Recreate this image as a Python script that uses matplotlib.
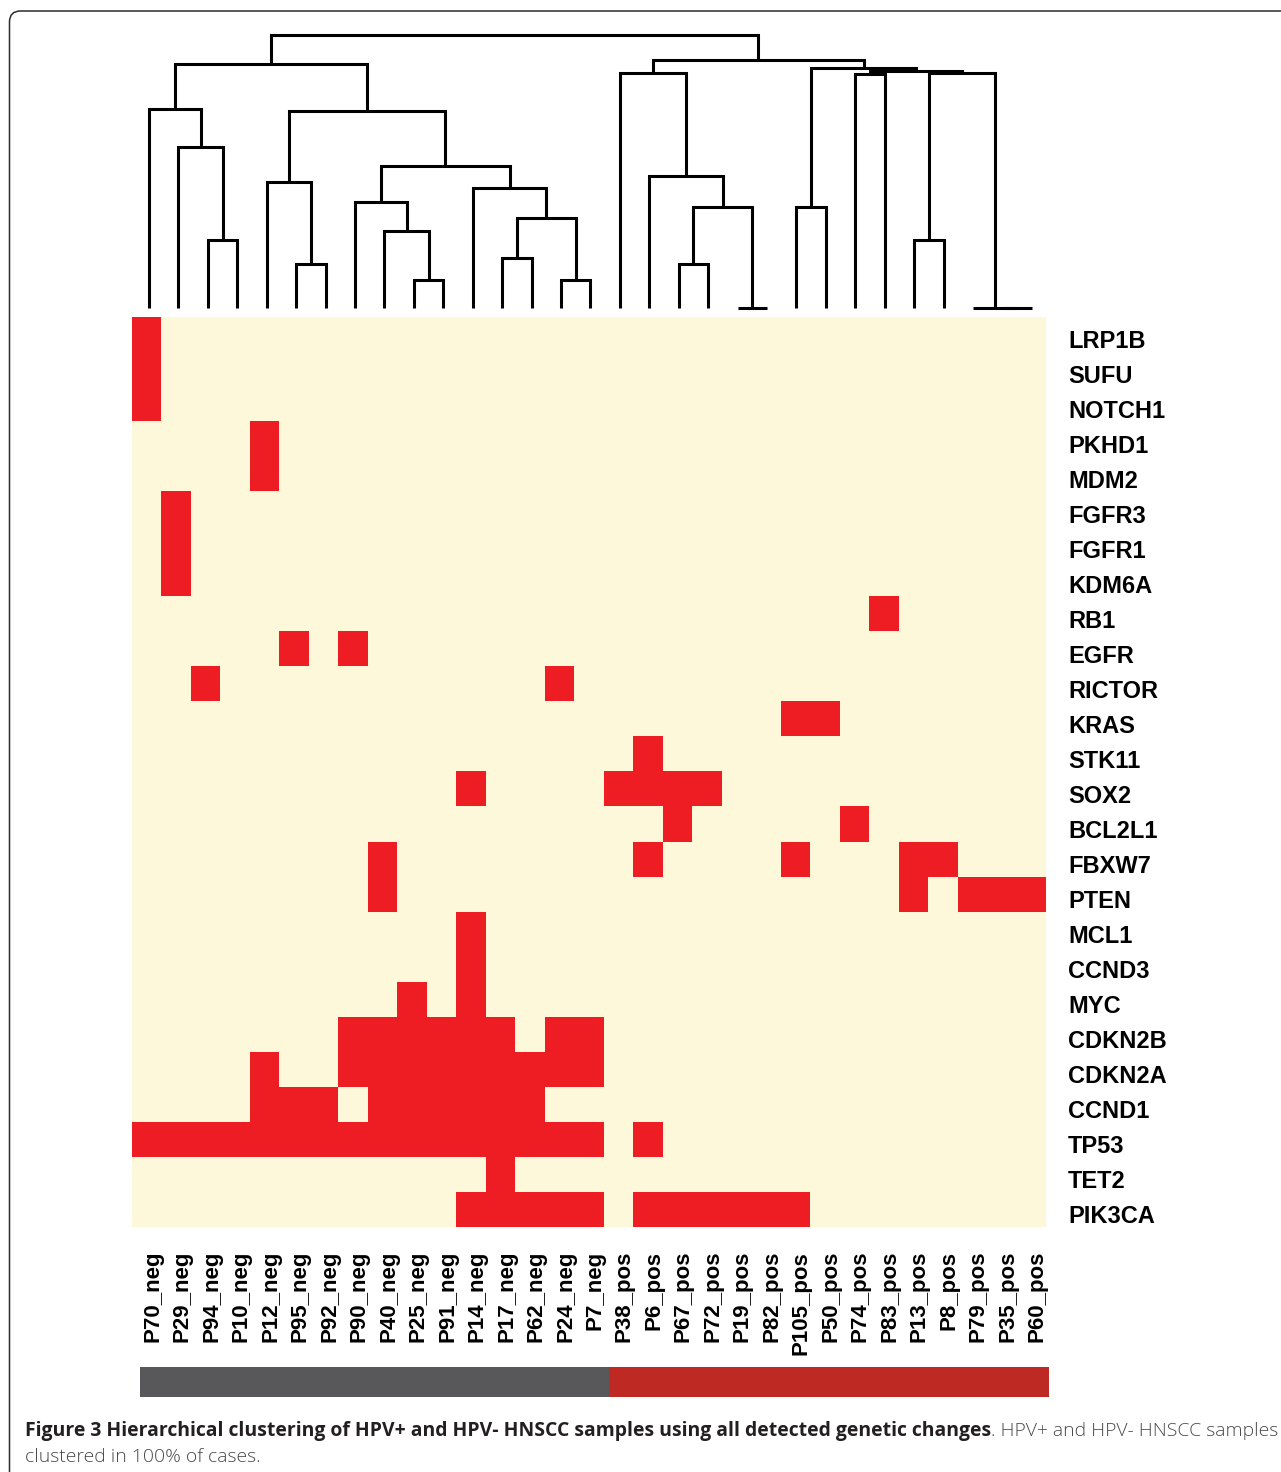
import matplotlib
matplotlib.use("Agg")
import numpy as np
import matplotlib.pyplot as plt
from matplotlib.colors import ListedColormap
from matplotlib import transforms
from matplotlib.patches import FancyBboxPatch

# ---------------------------------------------------------------- data
samples = [
    "P70_neg", "P29_neg", "P94_neg", "P10_neg", "P12_neg", "P95_neg",
    "P92_neg", "P90_neg", "P40_neg", "P25_neg", "P91_neg", "P14_neg",
    "P17_neg", "P62_neg", "P24_neg", "P7_neg",
    "P38_pos", "P6_pos", "P67_pos", "P72_pos", "P19_pos", "P82_pos",
    "P105_pos", "P50_pos", "P74_pos", "P83_pos", "P13_pos", "P8_pos",
    "P79_pos", "P35_pos", "P60_pos",
]

genes = [
    "LRP1B", "SUFU", "NOTCH1", "PKHD1", "MDM2", "FGFR3", "FGFR1", "KDM6A",
    "RB1", "EGFR", "RICTOR", "KRAS", "STK11", "SOX2", "BCL2L1", "FBXW7",
    "PTEN", "MCL1", "CCND3", "MYC", "CDKN2B", "CDKN2A", "CCND1", "TP53",
    "TET2", "PIK3CA",
]

# one string per gene, one character per sample (1 = alteration detected)
#                neg samples (16)     pos samples (15)
alterations = [
    "1000000000000000" "000000000000000",  # LRP1B
    "1000000000000000" "000000000000000",  # SUFU
    "1000000000000000" "000000000000000",  # NOTCH1
    "0000100000000000" "000000000000000",  # PKHD1
    "0000100000000000" "000000000000000",  # MDM2
    "0100000000000000" "000000000000000",  # FGFR3
    "0100000000000000" "000000000000000",  # FGFR1
    "0100000000000000" "000000000000000",  # KDM6A
    "0000000000000000" "000000000100000",  # RB1
    "0000010100000000" "000000000000000",  # EGFR
    "0010000000000010" "000000000000000",  # RICTOR
    "0000000000000000" "000000110000000",  # KRAS
    "0000000000000000" "010000000000000",  # STK11
    "0000000000010000" "111100000000000",  # SOX2
    "0000000000000000" "001000001000000",  # BCL2L1
    "0000000010000000" "010000100011000",  # FBXW7
    "0000000010000000" "000000000010111",  # PTEN
    "0000000000010000" "000000000000000",  # MCL1
    "0000000000010000" "000000000000000",  # CCND3
    "0000000001010000" "000000000000000",  # MYC
    "0000000111111011" "000000000000000",  # CDKN2B
    "0000100111111111" "000000000000000",  # CDKN2A
    "0000111011111100" "000000000000000",  # CCND1
    "1111111111111111" "010000000000000",  # TP53
    "0000000000001000" "000000000000000",  # TET2
    "0000000000011111" "011111100000000",  # PIK3CA
]

# hclust-style merge table: negative = leaf (1-based sample position),
# positive = earlier merge step (1-based)
merge_left = [-21, -30, -29, -10, -15, -6, -19, -13, -3, -27,
              -9, 8, -23, 7, -8, -12, -5, -18, 15, -2,
              17, -1, -17, -25, 10, 24, 13, 22, 23, 28]
merge_right = [-22, -31, 2, -11, -16, -7, -20, -14, -4, -28,
               4, 5, -24, 1, 11, 12, 6, 14, 16, 9,
               19, 20, 18, -26, 3, 25, 26, 21, 27, 29]
merge_height = [0.00, 0.00, 0.00, 0.31, 0.31, 0.48, 0.48, 0.55, 0.75, 0.75,
                0.85, 0.99, 1.11, 1.11, 1.17, 1.32, 1.38, 1.45, 1.56, 1.77,
                2.17, 2.19, 2.58, 2.57, 2.58, 2.60, 2.64, 2.68, 2.73, 3.00]

hpv_status = [s.split("_")[1] for s in samples]

# ---------------------------------------------------------------- styles
W, H = 1281, 1472
DPI = 100
CREAM = "#fdf8da"
RED = "#ee1d23"
BAR_GREY = "#58585a"
BAR_RED = "#be2a23"
LABEL_FONT = dict(family=["Liberation Sans", "DejaVu Sans"], weight="bold",
                  color="black")

fig = plt.figure(figsize=(W / DPI, H / DPI), dpi=DPI)
fig.patch.set_facecolor("white")


def px_axes(x0, y0, x1, y1):
    """Axes placed by pixel box (top-left origin)."""
    return fig.add_axes([x0 / W, 1 - y1 / H, (x1 - x0) / W, (y1 - y0) / H])


# rounded figure frame
frame = FancyBboxPatch((9.5, -40), 1330, H - 11 + 40,
                       boxstyle="round,pad=0,rounding_size=11",
                       transform=transforms.IdentityTransform(),
                       facecolor="none", edgecolor="#2b2b2b", lw=1.1)
fig.add_artist(frame)

# ---------------------------------------------------------------- heatmap
mat = np.array([[int(ch) for ch in row] for row in alterations])
n_rows, n_cols = mat.shape

ax_hm = px_axes(132, 317, 1046, 1227.5)
ax_hm.imshow(mat, cmap=ListedColormap([CREAM, RED]), vmin=0, vmax=1,
             aspect="auto", interpolation="nearest",
             extent=(-0.5, n_cols - 0.5, n_rows - 0.5, -0.5))
ax_hm.set_xlim(-0.5, n_cols - 0.5)
ax_hm.set_ylim(n_rows - 0.5, -0.5)
ax_hm.axis("off")

row_trans = transforms.offset_copy(ax_hm.get_yaxis_transform(), fig=fig,
                                   x=22, y=-13, units="dots")
for r, gene in enumerate(genes):
    ax_hm.text(1.0, r, gene, transform=row_trans, ha="left", va="baseline",
               fontsize=17, **LABEL_FONT)

col_trans = transforms.offset_copy(ax_hm.get_xaxis_transform(), fig=fig,
                                   x=6, y=-23.5, units="dots")
for c, name in enumerate(samples):
    ax_hm.text(c, 0.0, name, transform=col_trans, rotation=90,
               ha="center", va="top", fontsize=16, **LABEL_FONT)

# ---------------------------------------------------------------- dendrogram
ax_dg = px_axes(134.3, 35, 1046.6, 308)
ax_dg.set_xlim(-0.5, n_cols - 0.5)
ax_dg.set_ylim(0, max(merge_height))
ax_dg.axis("off")

node_x, node_h = {}, {}


def node_pos(ref):
    if ref < 0:
        return float(-ref - 1), 0.0
    return node_x[ref], node_h[ref]


for step, (a, b, h) in enumerate(zip(merge_left, merge_right, merge_height),
                                 start=1):
    xa, ha = node_pos(a)
    xb, hb = node_pos(b)
    ax_dg.plot([xa, xa, xb, xb], [ha, h, h, hb], color="black", lw=2.2,
               solid_joinstyle="miter", solid_capstyle="butt", clip_on=False)
    node_x[step] = (xa + xb) / 2
    node_h[step] = h

# ---------------------------------------------------------------- HPV bar
ax_bar = px_axes(140, 1367, 1049, 1397.5)
codes = np.array([[0 if s == "neg" else 1 for s in hpv_status]])
ax_bar.imshow(codes, cmap=ListedColormap([BAR_GREY, BAR_RED]), vmin=0, vmax=1,
              aspect="auto", interpolation="nearest")
ax_bar.axis("off")

# ---------------------------------------------------------------- caption
renderer = fig.canvas.get_renderer()


def fit_text(x_px, y_px, text, width_px, ha="left", **kw):
    t = fig.text(x_px / W, 1 - y_px / H, text, ha=ha, va="baseline",
                 fontsize=12, **kw)
    w = t.get_window_extent(renderer=renderer).width
    t.set_fontsize(12 * width_px / w)
    return t


cap_bold = fit_text(25, 1436,
                    "Figure 3 Hierarchical clustering of HPV+ and HPV- HNSCC "
                    "samples using all detected genetic changes",
                    962, family=["Open Sans", "DejaVu Sans"], weight="bold",
                    color="#231f20")
cap_size = cap_bold.get_fontsize()
fig.text(1278 / W, 1 - 1436 / H, ". HPV+ and HPV- HNSCC samples",
         ha="right", va="baseline", fontsize=cap_size,
         family=["Open Sans", "DejaVu Sans"], weight="light", color="#4a4a4a")
fig.text(25 / W, 1 - 1462 / H, "clustered in 100% of cases.",
         ha="left", va="baseline", fontsize=cap_size,
         family=["Open Sans", "DejaVu Sans"], weight="light", color="#4a4a4a")

fig.savefig("out.png", dpi=DPI, facecolor="white")
